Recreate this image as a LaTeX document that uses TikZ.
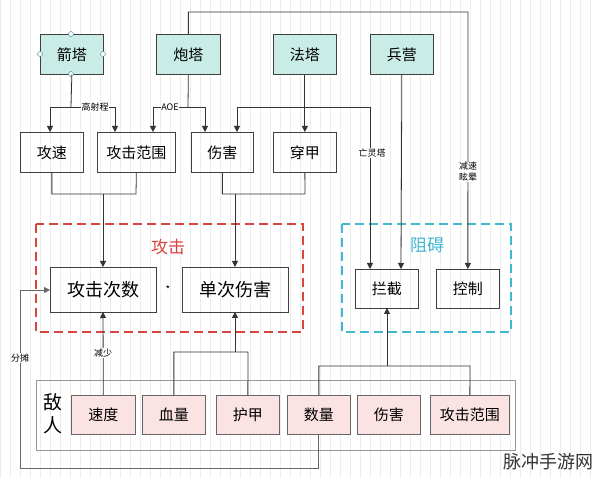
\documentclass[tikz,border=0pt]{standalone}
\usepackage{fontspec}
\setmainfont{Noto Sans CJK SC}
\usetikzlibrary{arrows.meta}
\definecolor{tw}{HTML}{C9EDE6}
\definecolor{pk}{HTML}{FBE3E3}
\definecolor{rd}{HTML}{D9443F}
\definecolor{bl}{HTML}{3FB8D0}
\begin{document}
\begin{tikzpicture}[x=1pt,y=-1pt,
 box/.style={draw=black!75,line width=0.7pt,anchor=north west,inner sep=0pt,font=\fontsize{15}{15}\selectfont},
 tower/.style={box,fill=tw},
 en/.style={box,fill=pk,draw=black!60},
 ln/.style={draw=black!80,line width=0.8pt},
 ar/.style={ln,-{Triangle[length=6pt,width=6pt]}},
 lab/.style={font=\fontsize{9}{9}\selectfont,fill=white,inner sep=0.5pt}]
\useasboundingbox (0,0) rectangle (600,478);
\fill[white] (0,0) rectangle (600,478);
\draw[black!7,line width=0.4pt] (0,0) grid[step=10] (600,478);
% towers
\node[tower,minimum width=63,minimum height=40] (jt) at (40,34) {箭塔};
\node[tower,minimum width=64,minimum height=40] (pt) at (156,34) {炮塔};
\node[tower,minimum width=63,minimum height=40] (ft) at (273,34) {法塔};
\node[tower,minimum width=63,minimum height=40] (by) at (370,34) {兵营};
\foreach \p in {(71,34),(71,74),(40,54),(103,54)} \draw[bl!70!black,fill=white,line width=0.4pt] \p circle (2.5);
% attributes
\node[box,minimum width=63,minimum height=40] (gs) at (20,132) {攻速};
\node[box,minimum width=78,minimum height=40] (gf) at (97,132) {攻击范围};
\node[box,minimum width=62,minimum height=40] (sh) at (191,132) {伤害};
\node[box,minimum width=63,minimum height=40] (cj) at (273,132) {穿甲};
% groups
\draw[rd,dashed,line width=1.3pt,dash pattern=on 9pt off 5pt] (36,224) rectangle (303,332);
\node[text=rd,font=\fontsize{17}{17}\selectfont] (tgl) at (168,247) {攻击};
\draw[bl,dashed,line width=1.3pt,dash pattern=on 9pt off 5pt] (342,224) rectangle (511,332);
\node[text=bl,font=\fontsize{17}{17}\selectfont] (zal) at (427,245) {阻碍};
\node[box,minimum width=106,minimum height=45,font=\fontsize{18}{18}\selectfont] (gc) at (50,267) {攻击次数};
\node[box,minimum width=106,minimum height=45,font=\fontsize{18}{18}\selectfont] (dc) at (182,267) {单次伤害};
\node (star) at (168,290) {*};
\node[box,minimum width=63,minimum height=39] (lj) at (355,269) {拦截};
\node[box,minimum width=63,minimum height=39] (kz) at (436,269) {控制};
% enemy
\node[draw=black!40,line width=0.7pt,anchor=north west,minimum width=479,minimum height=70,inner sep=0] (enemy) at (36,380) {};
\node[font=\fontsize{19}{23}\selectfont,align=center] (dr) at (53,414) {敌\\人};
\node[en,minimum width=64,minimum height=39] (e1) at (71,395) {速度};
\node[en,minimum width=63,minimum height=39] (e2) at (142,395) {血量};
\node[en,minimum width=63,minimum height=39] (e3) at (216,395) {护甲};
\node[en,minimum width=63,minimum height=39] (e4) at (287,395) {数量};
\node[en,minimum width=63,minimum height=39] (e5) at (357,395) {伤害};
\node[en,minimum width=79,minimum height=39] (e6) at (430,395) {攻击范围};
% connectors top
\draw[ar] (pt.north) |- (468,12) -- (kz.north);
\draw[ln] (jt.south) -- (71,107) coordinate (j1);
\draw[ar] (j1) -| (50,132);
\draw[ar] (j1) -| (115,132);
\node[lab] (gsc) at (95,107) {高射程};
\draw[ln] (pt.south) -- (188,107) coordinate (p1);
\draw[ar] (p1) -| (153,132);
\draw[ar] (p1) -| (205,132);
\node[lab] (aoe) at (170,107) {AOE};
\draw[ar] (370,107) -| (237,132);
\draw[ar] (370,107) -- (370,269);
\node[lab] (wlt) at (372,153) {亡灵塔};
\node[lab,align=center] (jsx) at (468,172) {减速\\[2pt]眩晕};
\draw[ar] (ft.south) -- (cj.north);
\draw[ar] (by.south) -- (401,269);
\draw[ln] (gs.south) |- (136,194) -- (gf.south);
\draw[ar] (103,194) -- (103,267);
\draw[ln] (sh.south) |- (305,194) -- (cj.south);
\draw[ar] (235,194) -- (235,267);
% bottom connectors
\draw[ar] (e1.north) -- (103,312);
\node[lab] (js) at (103,353) {减少};
\draw[ln] (e2.north) |- (248,352) -- (e3.north);
\draw[ar] (235,352) -- (235,312);
\draw[ln] (e4.north) |- (470,366) -- (e6.north);
\draw[ar] (387,366) -- (387,308);
\draw[ar,draw=black!60] (e4.south) |- (20,468) |- (50,290);
\node[lab] (ft2) at (20,358) {分摊};
\node[text=black!80,font=\fontsize{18}{18}\selectfont] (wm) at (548,462) {脉冲手游网};
\end{tikzpicture}
\end{document}
